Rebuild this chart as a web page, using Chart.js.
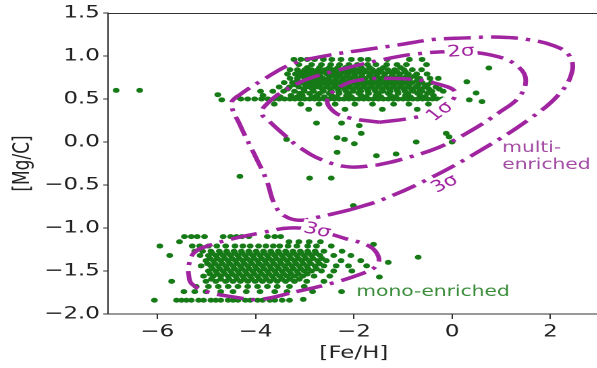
<!DOCTYPE html>
<html>
<head>
<meta charset="utf-8">
<script src="https://cdn.jsdelivr.net/npm/chart.js@4/dist/chart.umd.min.js"></script>
<style>
html, body { margin: 0; padding: 0; background: #fff; overflow: hidden; width: 597px; height: 368px; }
#wrap { position: absolute; left: 0; top: 0; width: 448px; height: 368px; transform: scaleX(1.35); transform-origin: 0 0; }
</style>
</head>
<body>
<div id="wrap"><canvas id="chart"></canvas></div>
<script>
// axis ticks
const xTicks = [-6, -4, -2, 0, 2];
const yTicks = [-2.0, -1.5, -1.0, -0.5, 0.0, 0.5, 1.0, 1.5];

// multi-enriched stars, rows of [Mg/C] with the [Fe/H] values read along them
const multiRows = [
    [0.96, [-3.22, -3.08, -2.95, -2.80, -2.62, -2.45, -2.26, -2.05, -1.86, -1.71, -1.32, -0.87, -0.61]],
    [0.90, [-3.12, -2.86, -2.66, -2.47, -2.29, -2.10, -1.93, -1.72, -1.55, -1.33, -1.12, -0.93, -0.52]],
    [0.865, [-2.95, -2.70, -2.50, -2.33, -2.17, -2.01, -1.85, -1.68, -1.40, -1.05]],
    [0.84, [-3.30, -3.15, -3.00, -2.86, -2.73, -2.58, -2.40, -2.26, -2.09, -1.95, -1.80, -1.62, -1.48, -1.31, -1.17, -0.98, -0.81, -0.62]],
    [0.815, [-3.08, -2.93, -2.78, -2.63, -2.48, -2.33, -2.19, -2.04, -1.90, -1.74, -1.58, -1.44, -1.28, -1.12, -0.95]],
    [0.79, [-3.35, -3.19, -3.02, -2.86, -2.71, -2.55, -2.41, -2.27, -2.12, -1.97, -1.83, -1.66, -1.52, -1.37, -1.21, -1.06, -0.89, -0.72, -0.51]],
    [0.765, [-3.10, -2.94, -2.80, -2.68, -2.47, -2.31, -2.15, -2.00, -1.84, -1.69, -1.54, -1.38, -1.23, -1.08, -0.93, -0.77]],
    [0.74, [-3.30, -3.15, -3.00, -2.88, -2.76, -2.63, -2.51, -2.36, -2.21, -2.06, -1.92, -1.77, -1.61, -1.46, -1.30, -1.16, -1.01, -0.86, -0.66, -0.45, -0.28]],
    [0.715, [-3.15, -2.98, -2.84, -2.69, -2.54, -2.39, -2.24, -2.09, -1.94, -1.79, -1.64, -1.49, -1.34, -1.19, -1.04, -0.89, -0.71]],
    [0.69, [-3.42, -3.25, -3.06, -2.91, -2.76, -2.61, -2.47, -2.31, -2.16, -2.02, -1.86, -1.71, -1.56, -1.42, -1.26, -1.11, -0.96, -0.81, -0.61, -0.42]],
    [0.665, [-3.20, -2.99, -2.83, -2.68, -2.53, -2.38, -2.23, -2.08, -1.93, -1.78, -1.63, -1.48, -1.33, -1.18, -1.03, -0.87, -0.69, -0.50]],
    [0.64, [-3.52, -3.31, -3.12, -2.92, -2.73, -2.56, -2.41, -2.26, -2.11, -1.96, -1.81, -1.66, -1.51, -1.36, -1.21, -1.06, -0.91, -0.74, -0.56, -0.33]],
    [0.615, [-3.35, -3.02, -2.84, -2.64, -2.48, -2.33, -2.18, -2.03, -1.88, -1.73, -1.58, -1.43, -1.28, -1.13, -0.98, -0.83, -0.66, -0.47, -0.26]],
    [0.59, [-3.90, -3.65, -3.43, -3.21, -3.01, -2.82, -2.62, -2.46, -2.31, -2.16, -2.01, -1.86, -1.71, -1.56, -1.41, -1.26, -1.11, -0.96, -0.79, -0.61, -0.41, -0.18]],
    [0.565, [-3.10, -2.90, -2.70, -2.50, -2.30, -2.10, -1.90, -1.70, -1.50, -1.30, -1.10, -0.90, -0.70, -0.50]],
    [0.54, [-3.85, -3.55, -3.28, -3.05, -2.75, -2.45, -2.15, -1.85, -1.55, -1.25, -0.95, -0.65, -0.38]],
    [0.525, [-3.50, -3.15, -2.85, -2.60, -2.35, -2.05, -1.75, -1.45, -1.15, -0.85, -0.55]],
    [0.50, [-4.30, -4.16, -4.02, -3.88, -3.75, -3.63, -3.52, -3.41, -3.30, -3.20, -3.10, -3.00, -2.90, -2.80, -2.70, -2.60, -2.50, -2.40, -2.30, -2.20, -2.10, -2.00, -1.90, -1.80, -1.70, -1.60, -1.50, -1.40, -1.30, -1.20, -1.10, -1.00, -0.90, -0.80, -0.70, -0.60, -0.50, -0.40, -0.30, -0.20]],
    [0.44, [-3.62, -3.08, -2.71, -2.38, -1.98, -1.62, -1.19, -0.88, -0.48]],
    [0.38, [-2.92, -2.18, -1.42, -0.71]]
];
const multiExtra = [
    [-6.84, 0.60], [-6.36, 0.60], [-4.77, 0.55], [-4.69, 0.49], [-4.37, 0.52],
    [-2.76, 0.22], [-2.25, 0.22], [-1.89, 0.19], [-1.85, 0.10], [-2.34, 0.05], [-2.19, 0.03],
    [-1.99, -0.02], [-2.34, -0.12], [-1.54, -0.16], [-1.14, -0.14], [-4.32, -0.40],
    [-2.90, -0.42], [-2.46, -0.42], [-3.37, 0.03], [0.75, 0.86], [0.30, 0.70], [0.49, 0.57],
    [0.35, 0.49], [0.61, 0.47], [-0.12, 0.10], [-0.06, 0.06], [0.00, 0.00], [-0.73, 0.00]
];

// mono-enriched stars
const monoRows = [
    [-1.10, [-5.45, -5.31, -5.19, -5.04, -4.66, -4.51, -4.39, -4.28, -4.14, -3.76, -3.61, -3.49]],
    [-1.16, [-5.55, -3.32, -3.12, -2.91, -2.68]],
    [-1.21, [-5.95, -5.29, -5.14, -4.96, -4.79, -4.61, -4.42, -4.26, -4.11, -3.94, -3.79, -3.64, -3.51, -3.34, -3.16, -2.94, -2.76, -2.46]],
    [-1.27, [-5.24, -5.08, -4.91, -4.74, -4.59, -4.44, -4.29, -4.14, -3.99, -3.84, -3.69, -3.54, -3.39, -3.24, -3.09, -2.94, -2.79, -2.61, -2.24]],
    [-1.295, [-4.88, -4.72, -4.57, -4.42, -4.27, -4.12, -3.97, -3.82, -3.67, -3.52, -3.37, -3.22, -3.07, -2.92, -2.77]],
    [-1.32, [-5.75, -5.13, -4.96, -4.81, -4.66, -4.51, -4.36, -4.21, -4.06, -3.91, -3.76, -3.61, -3.46, -3.31, -3.16, -3.01, -2.86, -2.69, -2.41, -2.06]],
    [-1.355, [-4.93, -4.78, -4.63, -4.48, -4.33, -4.18, -4.03, -3.88, -3.73, -3.58, -3.43, -3.28, -3.13, -2.98, -2.83, -2.65]],
    [-1.38, [-5.01, -4.86, -4.71, -4.56, -4.41, -4.26, -4.11, -3.96, -3.81, -3.66, -3.51, -3.36, -3.21, -3.06, -2.91, -2.74, -2.56, -2.26, -1.86]],
    [-1.415, [-4.98, -4.83, -4.68, -4.53, -4.38, -4.23, -4.08, -3.93, -3.78, -3.63, -3.48, -3.33, -3.18, -3.03, -2.88, -2.70]],
    [-1.44, [-5.11, -4.91, -4.76, -4.61, -4.46, -4.31, -4.16, -4.01, -3.86, -3.71, -3.56, -3.41, -3.26, -3.11, -2.96, -2.79, -2.61, -2.36, -2.11, -1.74]],
    [-1.475, [-4.88, -4.73, -4.58, -4.43, -4.28, -4.13, -3.98, -3.83, -3.68, -3.53, -3.38, -3.23, -3.08, -2.93, -2.76]],
    [-1.50, [-4.96, -4.81, -4.66, -4.51, -4.36, -4.21, -4.06, -3.91, -3.76, -3.61, -3.46, -3.31, -3.16, -3.01, -2.86, -2.66, -2.41, -2.04]],
    [-1.535, [-4.93, -4.78, -4.63, -4.48, -4.33, -4.18, -4.03, -3.88, -3.73, -3.58, -3.43, -3.28, -3.13, -2.95]],
    [-1.56, [-5.06, -4.86, -4.71, -4.56, -4.41, -4.26, -4.11, -3.96, -3.81, -3.66, -3.51, -3.36, -3.21, -3.04, -2.81, -2.49]],
    [-1.595, [-4.90, -4.71, -4.54, -4.38, -4.23, -4.08, -3.93, -3.78, -3.63, -3.47, -3.30, -3.11]],
    [-1.62, [-5.71, -5.01, -4.81, -4.61, -4.46, -4.31, -4.16, -4.01, -3.86, -3.71, -3.56, -3.39, -3.21, -2.96, -2.61]],
    [-1.68, [-5.21, -4.96, -4.76, -4.56, -4.36, -4.16, -3.96, -3.76, -3.56, -3.31, -3.01]],
    [-1.74, [-5.46, -5.24, -5.01, -4.71, -4.46, -4.19, -3.91, -3.61, -3.36, -2.84]],
    [-1.84, [-6.06, -5.61, -5.51, -5.41, -5.31, -5.16, -5.06, -4.91, -4.81, -4.71, -4.56, -4.46, -4.36, -4.21, -4.11, -3.96, -3.86, -3.71, -3.61, -3.46, -3.31]]
];
const monoExtra = [
    [-0.69, -1.34], [-1.30, -1.40], [-1.48, -1.57], [-1.60, -1.19], [-2.01, -0.74],
    [-2.25, -1.74], [-3.03, -1.83]
];

// density contours [Fe/H, Mg/C]
const multi1Sigma = [
    [-1.48, 0.23], [-0.81, 0.28], [-0.26, 0.37], [0.04, 0.51], [0.04, 0.60], [-0.26, 0.67],
    [-0.67, 0.72], [-1.28, 0.74], [-1.89, 0.72], [-2.29, 0.64], [-2.54, 0.49], [-2.40, 0.35],
    [-2.09, 0.28], [-1.48, 0.23]
];
const multi2Sigma = [
    [-1.54, -0.27], [-1.08, -0.21], [-0.26, -0.06], [0.41, 0.14], [0.95, 0.34], [1.36, 0.52],
    [1.50, 0.72], [1.36, 0.87], [0.95, 0.99], [0.14, 1.05], [-0.79, 1.02], [-1.48, 0.95],
    [-2.15, 0.86], [-2.90, 0.74], [-3.41, 0.60], [-3.72, 0.47], [-3.88, 0.34], [-3.72, 0.24],
    [-3.41, 0.08], [-3.11, -0.06], [-2.64, -0.21], [-2.09, -0.29], [-1.54, -0.27]
];
const multi3Sigma = [
    [-2.09, -0.79], [-1.42, -0.67], [-0.41, -0.41], [0.69, -0.06], [1.56, 0.26], [2.17, 0.55],
    [2.44, 0.81], [2.38, 1.01], [2.07, 1.12], [1.56, 1.19], [0.95, 1.22], [0.28, 1.21],
    [-0.41, 1.19], [-1.08, 1.13], [-1.81, 1.07], [-2.50, 1.01], [-3.25, 0.91], [-3.86, 0.72],
    [-4.32, 0.55], [-4.49, 0.45], [-4.32, 0.20], [-4.02, -0.15], [-3.78, -0.44], [-3.61, -0.73],
    [-3.41, -0.86], [-3.11, -0.91], [-2.70, -0.87], [-2.09, -0.79]
];
const mono3Sigma = [
    [-3.17, -1.74], [-2.50, -1.65], [-1.83, -1.53], [-1.54, -1.44], [-1.50, -1.33], [-1.69, -1.21],
    [-2.19, -1.12], [-2.76, -1.03], [-3.31, -1.00], [-3.92, -1.06], [-4.43, -1.12], [-4.93, -1.20],
    [-5.24, -1.28], [-5.36, -1.43], [-5.36, -1.55], [-5.30, -1.65], [-5.00, -1.74], [-4.47, -1.80],
    [-3.92, -1.83], [-3.17, -1.74]
];

const STRETCH = 1.35; // the reference is stretched sideways
const purple = '#a0239f';
const green = '#167a16';
const font = '"DejaVu Sans", sans-serif';

const toXY = pairs => pairs.map(p => ({ x: p[0], y: p[1] }));
const fromRows = rows => rows.flatMap(r => r[1].map(x => ({ x: x, y: r[0] })));
const fmt = (v, d) => (v < 0 ? '\u2212' : '') + Math.abs(v).toFixed(d);

const annotations = {
    id: 'annotations',
    afterDatasetsDraw(chart) {
        const { ctx, chartArea: a, scales: { x, y } } = chart;
        ctx.save();
        // top spine
        ctx.strokeStyle = '#333';
        ctx.lineWidth = 1;
        ctx.beginPath();
        ctx.moveTo(a.left, a.top + 0.5);
        ctx.lineTo(a.right, a.top + 0.5);
        ctx.stroke();

        // inline contour labels
        const labels = [
            { text: '2\u03c3', x: 0.18, y: 1.06, angle: -3 },
            { text: '1\u03c3', x: -0.26, y: 0.36, angle: -35 },
            { text: '3\u03c3', x: -0.16, y: -0.48, angle: -25 },
            { text: '3\u03c3', x: -2.74, y: -1.02, angle: 12 }
        ];
        ctx.font = '16px ' + font;
        ctx.textAlign = 'center';
        ctx.textBaseline = 'middle';
        labels.forEach(l => {
            const ang = Math.atan(Math.tan(l.angle * Math.PI / 180) * STRETCH);
            ctx.save();
            ctx.translate(x.getPixelForValue(l.x), y.getPixelForValue(l.y));
            ctx.rotate(ang);
            const w = ctx.measureText(l.text).width;
            ctx.fillStyle = '#fff';
            ctx.fillRect(-w / 2 - 2, -8, w + 4, 16);
            ctx.fillStyle = purple;
            ctx.fillText(l.text, 0, 1);
            ctx.restore();
        });

        // population names
        ctx.font = '15px ' + font;
        ctx.textAlign = 'left';
        ctx.fillStyle = '#a24aa4';
        ctx.fillText('multi-', x.getPixelForValue(1.02), y.getPixelForValue(-0.07));
        ctx.fillText('enriched', x.getPixelForValue(1.02), y.getPixelForValue(-0.27));
        ctx.fillStyle = '#3a8c3a';
        ctx.fillText('mono-enriched', x.getPixelForValue(-1.95), y.getPixelForValue(-1.745));
        ctx.restore();
    }
};

const contourStyle = {
    showLine: true,
    borderColor: purple,
    borderWidth: 3.5,
    borderDash: [20, 6, 3, 6],
    pointRadius: 0,
    fill: false,
    tension: 0.4,
    order: 0
};
const pointStyle = {
    showLine: false,
    backgroundColor: green,
    borderWidth: 0,
    pointRadius: 2.5,
    order: 1
};

new Chart(document.getElementById('chart'), {
    type: 'scatter',
    data: {
        datasets: [
            { ...contourStyle, data: toXY(multi1Sigma) },
            { ...contourStyle, data: toXY(multi2Sigma) },
            { ...contourStyle, data: toXY(multi3Sigma) },
            { ...contourStyle, data: toXY(mono3Sigma) },
            { ...pointStyle, data: fromRows(multiRows).concat(toXY(multiExtra)) },
            { ...pointStyle, data: fromRows(monoRows).concat(toXY(monoExtra)) }
        ]
    },
    options: {
        responsive: true,
        maintainAspectRatio: false,
        animation: false,
        devicePixelRatio: 2,
        layout: { padding: { top: 13, left: 0, right: 0, bottom: 0 } },
        plugins: { legend: { display: false }, tooltip: { enabled: false } },
        scales: {
            x: {
                type: 'linear',
                min: -7,
                max: 3,
                afterBuildTicks: s => { s.ticks = xTicks.map(v => ({ value: v })); },
                afterFit: s => { s.height = 54; s.paddingLeft = 0; s.paddingRight = 0; },
                grid: { drawOnChartArea: false, tickLength: 5, tickColor: '#333' },
                border: { color: '#333', width: 1 },
                ticks: { color: '#222', font: { family: font, size: 17 }, padding: 3, maxRotation: 0, callback: v => fmt(v, 0) },
                title: { display: true, text: '[Fe/H]', color: '#222', font: { family: font, size: 17 }, padding: { top: 0, bottom: 4 } }
            },
            y: {
                type: 'linear',
                min: -2,
                max: 1.5,
                afterBuildTicks: s => { s.ticks = yTicks.map(v => ({ value: v })); },
                afterFit: s => { s.width = 80.2; s.paddingTop = 0; s.paddingBottom = 0; },
                grid: { drawOnChartArea: false, tickLength: 3.7, tickColor: '#333' },
                border: { color: '#333', width: 1 },
                ticks: { color: '#222', font: { family: font, size: 17 }, padding: 2.5, callback: v => fmt(v, 1) },
                title: { display: true, text: '[Mg/C]', color: '#222', font: { family: font, size: 17 }, padding: { top: 7, bottom: 0 } }
            }
        }
    },
    plugins: [annotations]
});
</script>
</body>
</html>
